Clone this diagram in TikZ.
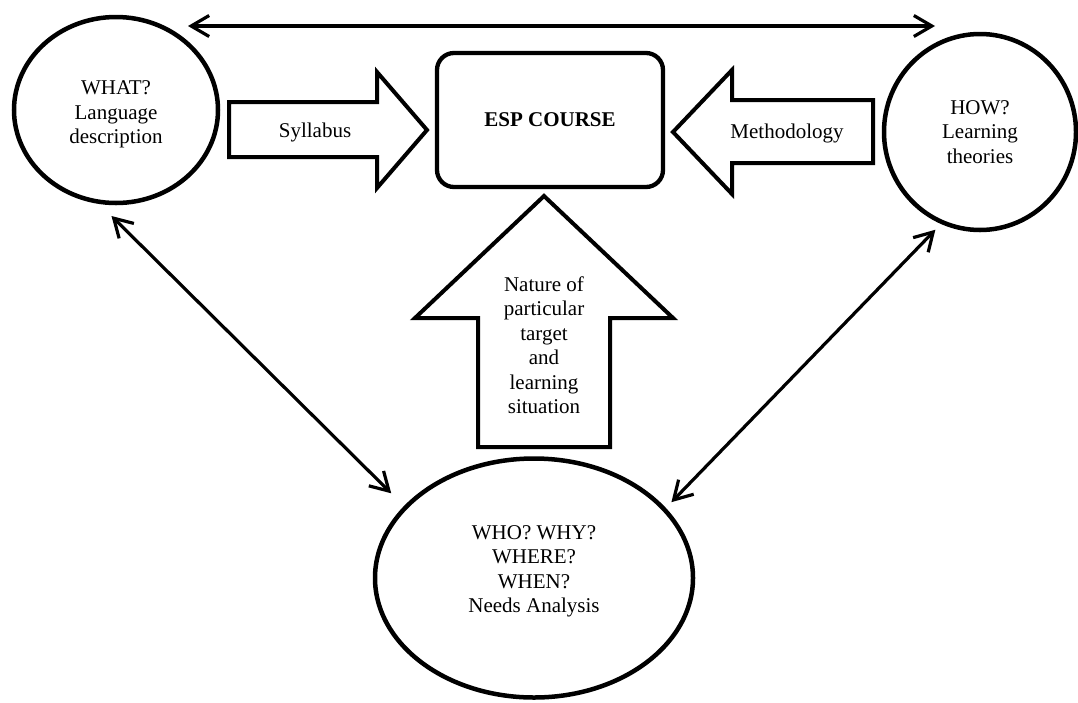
\documentclass[tikz,border=0pt]{standalone}
\usepackage{fontspec}
\setmainfont{Liberation Serif}
\usetikzlibrary{shapes.geometric,arrows.meta}

\begin{document}
\begin{tikzpicture}[x=1pt,y=-1pt,
  every node/.style={font=\fontsize{21}{24.5}\selectfont, align=center},
  bubble/.style={draw, ellipse, line width=4.5pt, inner sep=0pt},
  blockarrow/.style={draw, line width=4pt},
  twoway/.style={{Straight Barb[length=18pt,width=21pt]}-{Straight Barb[length=18pt,width=21pt]}, line width=3.2pt}]
  \useasboundingbox (0,0) rectangle (1078,702);
	\node[bubble, minimum width=204pt, minimum height=186pt, text height=72pt] (what) at (116,110) {WHAT?\\Language\\description};
	\node[bubble, minimum width=192pt, minimum height=196pt] (how) at (980,132) {HOW?\\Learning\\theories};
	\node[bubble, minimum width=318pt, minimum height=239pt, text depth=18pt] (needs) at (534,578) {WHO? WHY?\\WHERE?\\WHEN?\\Needs Analysis};
	\node[draw, rounded corners=17pt, line width=4.3pt, minimum width=226pt, minimum height=134pt, font=\fontsize{21}{24.5}\selectfont\bfseries] (esp) at (550,120) {ESP COURSE};
	% block arrows
	\draw[blockarrow] (229,102) -- (377,102) -- (377,72) -- (427,130) -- (377,188) -- (377,157) -- (229,157) -- cycle;
	\draw[blockarrow] (873,100) -- (732,100) -- (732,70) -- (673,132) -- (732,194) -- (732,163) -- (873,163) -- cycle;
	\draw[blockarrow] (478,447) -- (478,318) -- (415,318) -- (544,196) -- (673,318) -- (610,318) -- (610,447) -- cycle;
	\node (syllabus) at (315,132) {Syllabus};
	\node (method) at (787,133) {Methodology};
	\node (nature) at (544,345) {Nature of\\particular\\target\\and\\learning\\situation};
	% two-way links
	\coordinate (topL) at (188,26);
	\coordinate (topR) at (935,26);
	\draw[twoway] (topL) -- (topR);
	\draw[twoway, shorten <=17pt, shorten >=18pt] (what.260) -- (needs.151);
	\draw[twoway, shorten <=8pt, shorten >=8pt] (how.247) -- (needs.28);
\end{tikzpicture}
\end{document}
